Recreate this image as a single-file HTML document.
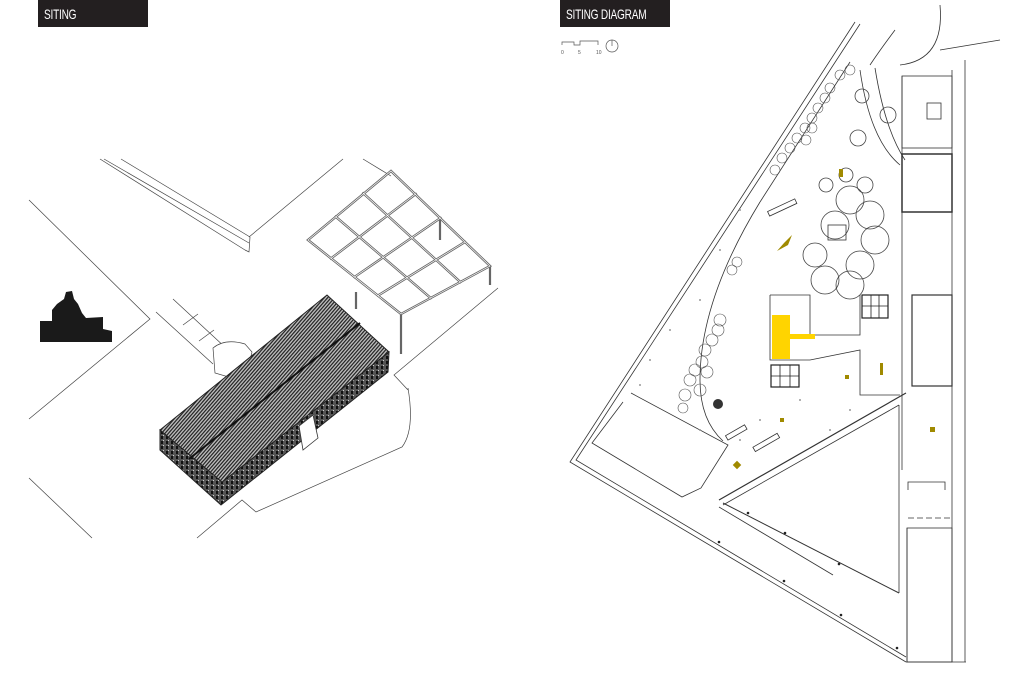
<!DOCTYPE html>
<html><head><meta charset="utf-8"><style>
html,body{margin:0;padding:0;background:#fff;width:1024px;height:683px;overflow:hidden}
.hd{position:absolute;top:0;height:27px;background:#231f20;box-sizing:border-box;overflow:hidden}
.hd span{position:absolute;left:6px;top:0;color:#fff;font-family:"Liberation Sans",sans-serif;font-size:14px;line-height:28px;white-space:nowrap;transform:scaleX(0.72);transform-origin:left center;letter-spacing:-0.3px}
</style></head><body>
<div class="hd" style="left:38px;width:110px"><span>SITING</span></div>
<div class="hd" style="left:560px;width:110px"><span>SITING DIAGRAM</span></div>
<svg width="1024" height="683" style="position:absolute;left:0;top:0" xmlns="http://www.w3.org/2000/svg">
<defs>
<pattern id="hatch" width="2.6" height="4" patternUnits="userSpaceOnUse" patternTransform="rotate(41)">
<rect width="3" height="4" fill="#bbb"/><line x1="0.6" y1="0" x2="0.6" y2="4" stroke="#222" stroke-width="1.2"/></pattern>
<pattern id="side" width="5" height="5" patternUnits="userSpaceOnUse">
<rect width="5" height="5" fill="#555"/><rect x="1" y="1" width="2" height="3" fill="#111"/><rect x="3" y="0" width="1" height="1" fill="#ccc"/></pattern>
</defs>
<g fill="none" stroke="#444" stroke-width="0.7">
<polyline points="29,200 150,319 29,419"/>
<line x1="29" y1="478" x2="92" y2="538"/>
<line x1="100" y1="159" x2="245" y2="250"/>
<line x1="104" y1="159" x2="249" y2="243"/>
<line x1="121" y1="159" x2="250" y2="237"/>
<polyline points="245,250 249,252 250,237"/>
<polyline points="249,237 343,159"/>
<polyline points="363,159 391,176"/>
<polyline points="498,288 394,375 408,390"/>
<path d="M408,388 Q415,430 402,447 L256,512 L242,500 L197,538"/>
<line x1="173" y1="299" x2="227" y2="349"/>
<line x1="156" y1="312" x2="213" y2="364"/>
<line x1="183" y1="325" x2="198" y2="314"/>
<line x1="199" y1="341" x2="214" y2="330"/>
<path d="M213,348 Q225,338 245,344 L252,352 Q248,372 232,378 L215,373 Z" fill="#fff"/>
</g>
<!-- pergola -->
<g id="pg" fill="none" stroke-linecap="square">
<polygon points="391,171 490,266 401,314 308,240"/>
<line x1="415.75" y1="194" x2="331" y2="258.5"/>
<line x1="440.5" y1="218" x2="354.5" y2="277"/>
<line x1="465" y1="242" x2="378" y2="295.5"/>
<line x1="363.3" y1="193.3" x2="460.3" y2="282"/>
<line x1="335.7" y1="216.7" x2="430.7" y2="298"/>
</g>
<use href="#pg" stroke="#666" stroke-width="2.4"/>
<g stroke="#666" stroke-width="2.2">
<line x1="356" y1="292" x2="356" y2="309"/>
<line x1="401" y1="314" x2="401" y2="354"/>
<line x1="490" y1="266" x2="490" y2="285"/>
<line x1="440" y1="219" x2="440" y2="240"/>
</g>
<use href="#pg" stroke="#fff" stroke-width="0.7"/>
<!-- building -->
<polygon points="160,430 160,450 221,505 388,372 389,352 222,482" fill="url(#side)" stroke="#222" stroke-width="1"/>
<polygon points="160,430 327,295 389,352 222,482" fill="url(#hatch)" stroke="#222" stroke-width="1"/>
<line x1="189" y1="459" x2="360" y2="323" stroke="#111" stroke-width="2"/>
<polygon points="299,426 313,415 318,438 303,450" fill="#fff" stroke="#333" stroke-width="0.8"/>
<!-- sculpture -->
<path d="M40,321 L52,321 L52,310 L57,304 L64,299 L66,292 L72,291 L74,299 L78,304 L82,313 L86,318 L103,317 L103,329 L112,331 L112,342 L40,342 Z" fill="#1a1a1a"/>
<!-- scale -->
<g stroke="#555" stroke-width="0.7" fill="none">
<polyline points="562,45 562,42 574,42 574,45 580,45 580,41 598,41 598,45"/>
<circle cx="612" cy="46" r="6"/><line x1="612" y1="40" x2="612" y2="46"/>
</g>
<g font-family="Liberation Sans,sans-serif" font-size="5" fill="#555"><text x="561" y="54">0</text><text x="578" y="54">5</text><text x="596" y="54">10</text></g>
<!-- right plan -->
<g fill="none" stroke="#333" stroke-width="0.8">
<polyline points="855,22 570,462 906,662"/>
<polyline points="860,24 576,460 906,657"/>
<line x1="906" y1="662" x2="966" y2="662"/>
<line x1="952" y1="70" x2="952" y2="662"/>
<line x1="965" y1="60" x2="965" y2="662"/>
<line x1="902" y1="76" x2="902" y2="470"/>
<line x1="907" y1="528" x2="907" y2="662"/>
<rect x="902" y="76" width="50" height="72"/>
<rect x="927" y="103" width="14" height="16"/>
<rect x="902" y="154" width="50" height="58" stroke-width="1.5"/>
<rect x="912" y="295" width="40" height="91" stroke-width="1.2"/>
<rect x="907" y="528" width="45" height="134"/>
<polyline points="908,490 908,482 945,482 945,490"/>
<line x1="908" y1="518" x2="952" y2="518" stroke-dasharray="6,3"/>
<line x1="899" y1="405" x2="899" y2="593"/>
<line x1="719" y1="500" x2="906" y2="393" stroke-width="1.2"/>
<line x1="723" y1="505" x2="899" y2="405"/>
<line x1="723" y1="503" x2="899" y2="593" stroke-width="1"/>
<line x1="719" y1="507" x2="833" y2="575"/>
<polyline points="631,393 728,445 701,488 682,497 592,443 623,402"/>
<path d="M760,202 Q700,300 700,380 Q700,420 723,441"/>
<line x1="760" y1="202" x2="850" y2="62"/>
<path d="M860,70 Q870,140 900,165"/>
<path d="M875,68 Q885,130 905,160"/>
<path d="M895,30 Q880,50 870,65"/>
<path d="M940,5 Q945,60 900,65"/>
<line x1="940" y1="50" x2="1000" y2="40"/>
<polyline points="770,295 810,295 810,335"/>
<polyline points="770,295 770,360 810,360"/>
<polyline points="810,335 860,335 860,295"/>
<polyline points="810,360 860,350 860,395 900,395"/>
<g stroke="#444">
<circle cx="850" cy="200" r="14"/><circle cx="870" cy="215" r="14"/><circle cx="875" cy="240" r="14"/>
<circle cx="860" cy="265" r="14"/><circle cx="850" cy="285" r="14"/><circle cx="825" cy="280" r="14"/>
<circle cx="815" cy="255" r="12"/><circle cx="835" cy="225" r="14"/><circle cx="865" cy="185" r="8"/>
<circle cx="862" cy="96" r="7"/><circle cx="888" cy="115" r="8"/><circle cx="858" cy="138" r="8"/>
<circle cx="826" cy="185" r="7"/><circle cx="846" cy="175" r="7"/>
</g>
<rect x="862" y="295" width="26" height="23" stroke="#222" stroke-width="1.2"/>
<path d="M871,295V318M879,295V318M862,306H888" stroke="#222"/>
<rect x="771" y="365" width="28" height="22" stroke="#222" stroke-width="1.2"/>
<path d="M780,365V387M790,365V387M771,376H799" stroke="#222"/>
<rect x="828" y="225" width="18" height="15"/>
<rect x="767" y="205" width="30" height="5" transform="rotate(-25 782 207)"/>
<rect x="752" y="440" width="28" height="5" transform="rotate(-30 766 442)"/>
<rect x="725" y="430" width="22" height="5" transform="rotate(-30 736 432)"/>
</g>
<g fill="none" stroke="#555" stroke-width="0.6">
<circle cx="690" cy="380" r="6"/><circle cx="695" cy="370" r="6"/><circle cx="702" cy="362" r="6"/><circle cx="705" cy="350" r="6"/><circle cx="712" cy="340" r="6"/><circle cx="718" cy="330" r="6"/><circle cx="720" cy="320" r="6"/><circle cx="685" cy="395" r="6"/><circle cx="683" cy="408" r="5"/><circle cx="700" cy="390" r="6"/><circle cx="707" cy="372" r="6"/>
<circle cx="775" cy="170" r="5"/><circle cx="782" cy="158" r="5"/><circle cx="790" cy="148" r="5"/><circle cx="797" cy="138" r="5"/><circle cx="805" cy="128" r="5"/><circle cx="812" cy="118" r="5"/><circle cx="818" cy="108" r="5"/><circle cx="825" cy="98" r="5"/><circle cx="830" cy="88" r="5"/><circle cx="840" cy="75" r="5"/><circle cx="850" cy="70" r="5"/><circle cx="806" cy="140" r="5"/><circle cx="812" cy="128" r="5"/>
<circle cx="732" cy="270" r="5"/><circle cx="737" cy="262" r="5"/>
</g>
<circle cx="718" cy="404" r="5" fill="#333"/>
<rect x="772" y="315" width="18" height="44" fill="#ffd400"/>
<rect x="790" y="334" width="25" height="5" fill="#ffd400"/>
<g fill="#a08a00">
<rect x="880" y="363" width="3" height="12"/><rect x="930" y="427" width="5" height="5"/>
<rect x="734" y="462" width="6" height="6" transform="rotate(45 737 465)"/>
<rect x="780" y="418" width="4" height="4"/><rect x="845" y="375" width="4" height="4"/>
<rect x="839" y="169" width="4" height="8"/>
<path d="M777,251 L784,243 L792,235 L788,245 Z"/>
</g>
<g fill="#999">
<circle cx="670" cy="330" r="1"/><circle cx="650" cy="360" r="1"/><circle cx="640" cy="385" r="1"/><circle cx="700" cy="300" r="1"/><circle cx="720" cy="250" r="1"/><circle cx="740" cy="210" r="1"/><circle cx="760" cy="420" r="1"/><circle cx="800" cy="400" r="1"/><circle cx="830" cy="430" r="1"/><circle cx="850" cy="410" r="1"/><circle cx="700" cy="430" r="1"/><circle cx="740" cy="440" r="1"/>
</g>
<g fill="#222"><circle cx="748" cy="513" r="1.3"/><circle cx="785" cy="533" r="1.3"/><circle cx="839" cy="564" r="1.3"/><circle cx="719" cy="542" r="1.3"/><circle cx="784" cy="581" r="1.3"/><circle cx="841" cy="615" r="1.3"/><circle cx="897" cy="648" r="1.3"/></g>
</svg>
</body></html>
